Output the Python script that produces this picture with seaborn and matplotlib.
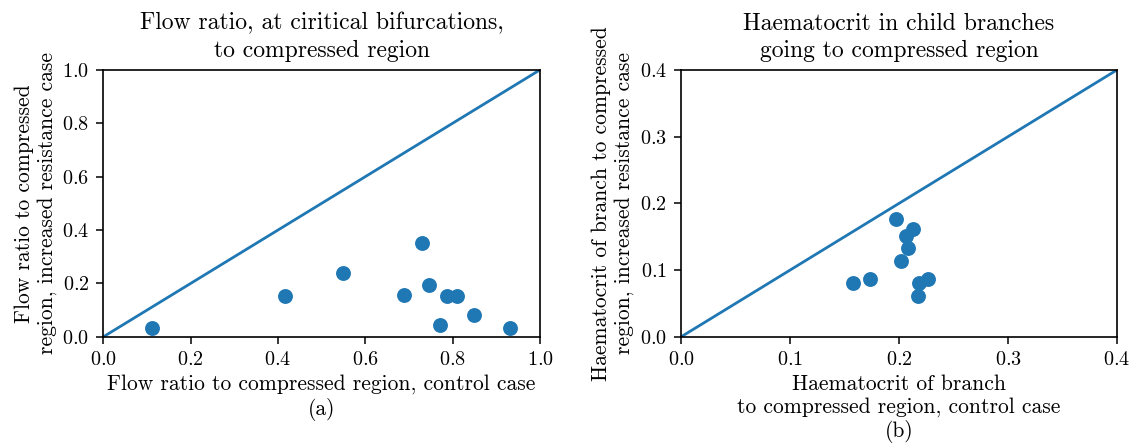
import matplotlib
matplotlib.use("Agg")
import matplotlib.pyplot as plt
import seaborn as sns
import pandas as pd

# Panel (a): flow ratio to compressed region
flow_control = [0.111, 0.416, 0.549, 0.688, 0.731, 0.746, 0.771, 0.787, 0.809, 0.849, 0.931]
flow_increased = [0.034, 0.153, 0.238, 0.155, 0.353, 0.195, 0.045, 0.152, 0.152, 0.083, 0.034]

# Panel (b): haematocrit in child branches
haem_control = [0.197, 0.213, 0.206, 0.208, 0.202, 0.158, 0.173, 0.218, 0.227, 0.217]
haem_increased = [0.176, 0.162, 0.151, 0.133, 0.113, 0.080, 0.087, 0.081, 0.086, 0.061]

identity_a = [0.0, 1.0]
identity_b = [0.0, 0.4]

sns.set_style("ticks")
plt.rcParams['font.family'] = ['cmr10', 'DejaVu Serif']
plt.rcParams['mathtext.fontset'] = 'cm'
plt.rcParams['axes.formatter.use_mathtext'] = True
plt.rcParams['axes.unicode_minus'] = False
plt.rcParams['text.color'] = 'black'
plt.rcParams['axes.labelcolor'] = 'black'
plt.rcParams['xtick.color'] = 'black'
plt.rcParams['ytick.color'] = 'black'
plt.rcParams['axes.edgecolor'] = 'black'

color = "#1f77b4"
fig = plt.figure(figsize=(11.32, 4.45), dpi=100)
ax1 = fig.add_axes([0.0912, 0.243, 0.3858, 0.6])
ax2 = fig.add_axes([0.6016, 0.243, 0.3852, 0.6])

df_a = pd.DataFrame({"x": flow_control, "y": flow_increased})
df_b = pd.DataFrame({"x": haem_control, "y": haem_increased})

for ax, df, ident, lim in [(ax1, df_a, identity_a, 1.0), (ax2, df_b, identity_b, 0.4)]:
    sns.lineplot(x=ident, y=ident, ax=ax, color=color, linewidth=2.0)
    sns.scatterplot(data=df, x="x", y="y", ax=ax, color=color, s=115, linewidth=0, alpha=1)
    ax.set_xlim(0, lim)
    ax.set_ylim(0, lim)
    for s in ax.spines.values():
        s.set_visible(True)
        s.set_color("black")
        s.set_linewidth(1.2)
    ax.tick_params(labelsize=14.5, length=5, width=1.1, color="black", labelcolor="black", pad=5)

ax1.set_xticks([0, 0.2, 0.4, 0.6, 0.8, 1.0])
ax1.set_yticks([0, 0.2, 0.4, 0.6, 0.8, 1.0])
ax2.set_xticks([0, 0.1, 0.2, 0.3, 0.4])
ax2.set_yticks([0, 0.1, 0.2, 0.3, 0.4])

ax1.set_title("Flow ratio, at ciritical bifurcations,\nto compressed region", fontsize=17, linespacing=1.33, pad=9, color="black")
ax1.set_xlabel("Flow ratio to compressed region, control case\n(a)", fontsize=15.5, linespacing=1.2, color="black")
ax1.set_ylabel("Flow ratio to compressed\nregion, increased resistance case", fontsize=15.5, linespacing=1.2, color="black")

ax2.set_title("Haematocrit in child branches\ngoing to compressed region", fontsize=17, linespacing=1.33, pad=9, color="black")
ax2.set_xlabel("Haematocrit of branch\nto compressed region, control case\n(b)", fontsize=15.5, linespacing=1.2, color="black")
ax2.set_ylabel("Haematocrit of branch to compressed\nregion, increased resistance case", fontsize=15.5, linespacing=1.2, color="black")

fig.savefig("out.png", dpi=100)
